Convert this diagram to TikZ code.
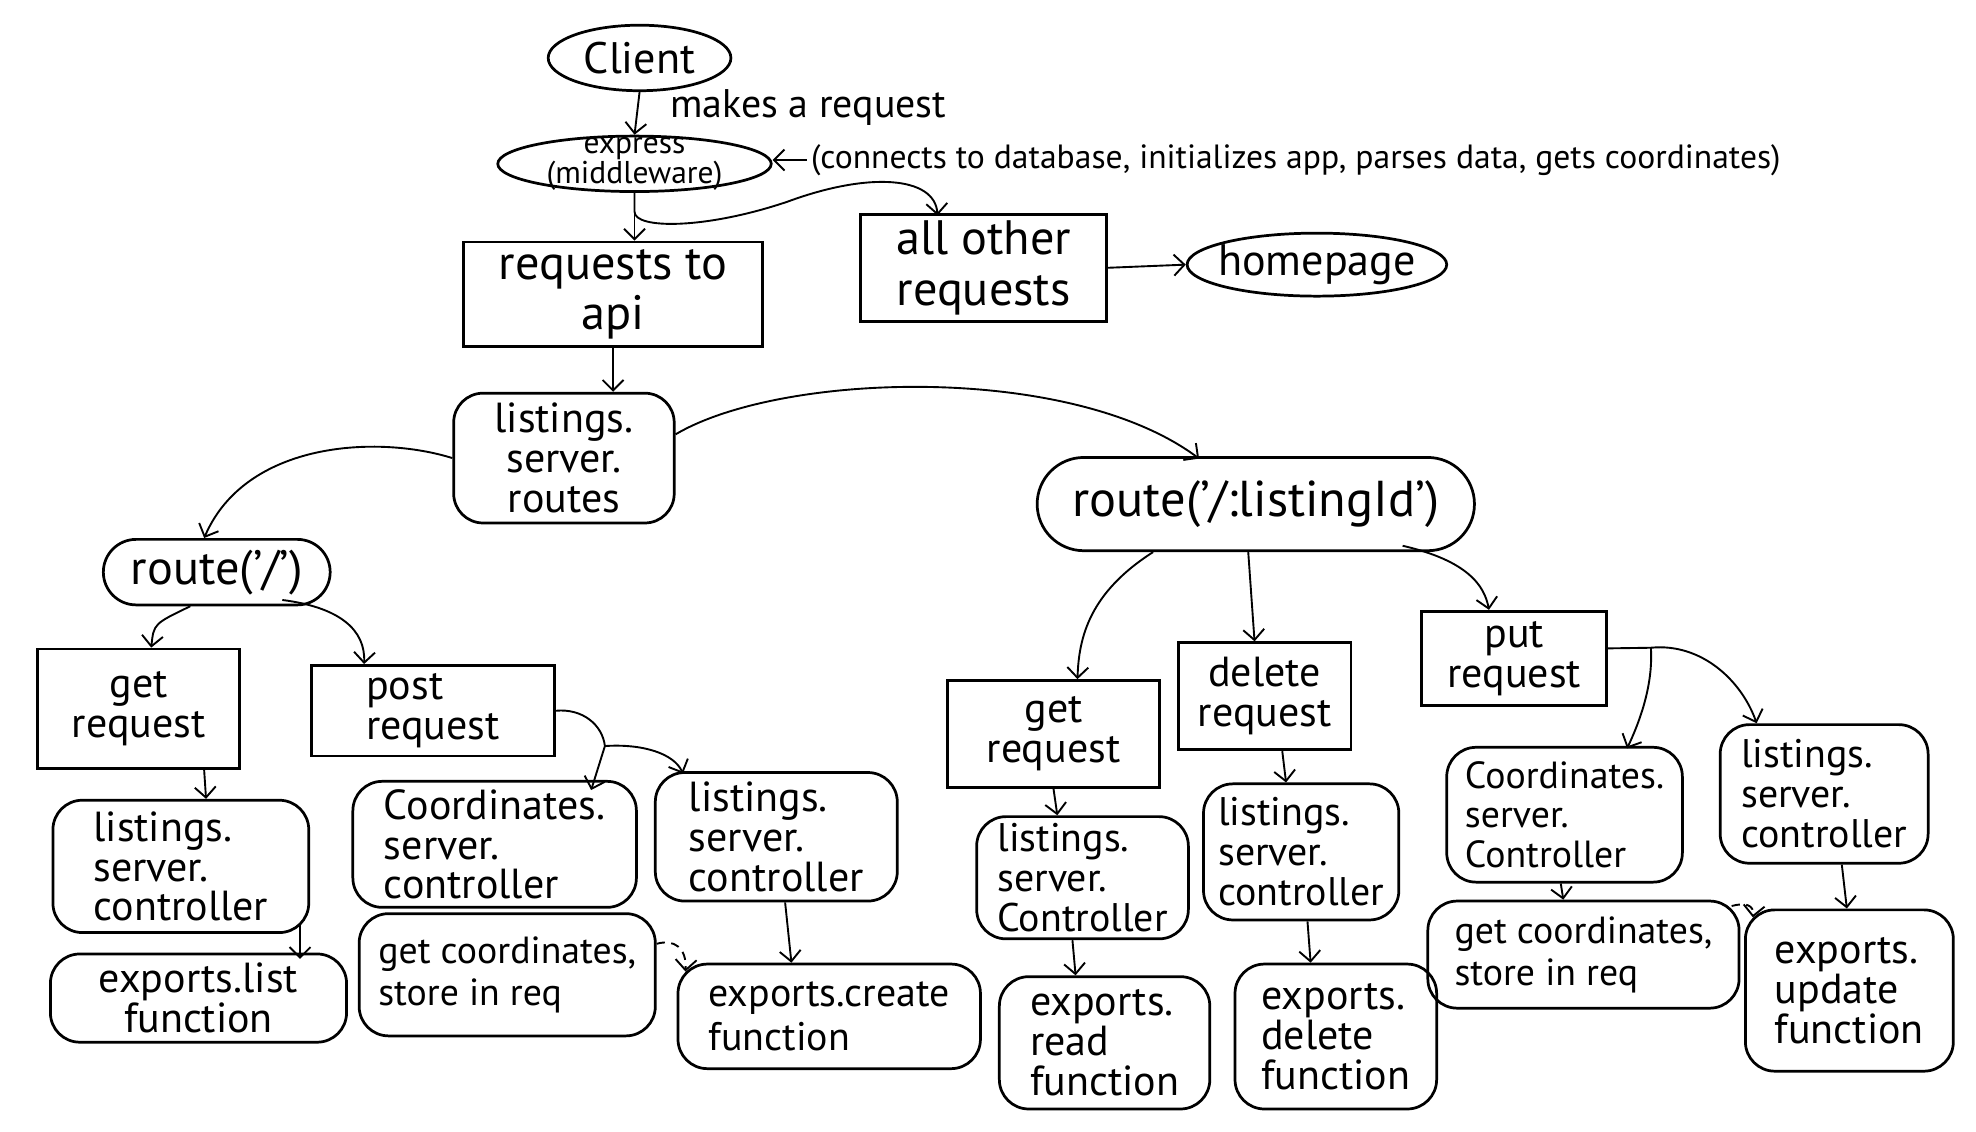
\documentclass[tikz,border=0pt]{standalone}
\usepackage{fontspec}
\setmainfont{PT Sans}
\usetikzlibrary{calc,shapes.geometric,shapes.misc,arrows.meta}
\newcommand\myfs[2]{\fontsize{#1}{#2}\selectfont}
\tikzset{
  shp/.style={draw, line width=1.3pt, inner sep=0pt, align=center},
  wh/.style 2 args={minimum width=#1*0.6pt, minimum height=#2*0.6pt},
  blob/.style={shp, rectangle, rounded corners=14pt},
  rbox/.style={shp, rectangle},
  oval/.style={shp, ellipse},
  pill/.style={shp, rounded rectangle},
  arr/.style={line width=0.9pt, -{Straight Barb[length=5pt,width=10pt]}},
  darr/.style={arr, dash pattern=on 4pt off 3pt},
}
\begin{document}
\begin{tikzpicture}[x=0.6pt,y=-0.6pt, font=\myfs{20}{19}]
\useasboundingbox (0,0) rectangle (1568,898);

% top
\node[oval, wh={145}{52}, label={[font=\myfs{21}{21}]center:Client}] (client) at (507.5,46) {};
\node[oval, wh={217}{44}, label={[font=\myfs{15}{13}, align=center]center:express\\(middleware)}] (express) at (503.5,130) {};
\node[anchor=west, inner sep=2pt, font=\myfs{16}{16}] (note) at (640,127) {(connects to database, initializes app, parses data, gets coordinates)};
\node[rbox, wh={237}{83}, font=\myfs{23}{24}] (reqapi) at (486.5,233.5) {requests to\\api};
\node[rbox, wh={195}{85}, font=\myfs{23}{24}] (allother) at (780.5,212.5) {all other\\requests};
\node[oval, wh={206}{50}, label={[font=\myfs{21}{21}]center:homepage}] (homepage) at (1045,210) {};
\node[blob, wh={175}{103}] (lsr) at (447.5,363.5) {listings.\\server.\\routes};
\node[pill, wh={180}{52}, font=\myfs{23}{23}] (route1) at (172,454) {route('/')};
\node[pill, wh={347}{74}, font=\myfs{24}{24}] (route2) at (996.5,400) {route('/:listingId')};

% left subtree
\node[rbox, wh={160}{95}] (get1) at (110,562.5) {get\\request};
\node[rbox, wh={193}{72}, align=left] (post) at (343.5,564) {post\\request};
\node[blob, wh={203}{105}, align=left] (lsc1) at (143.5,687.5) {listings.\\server.\\controller};
\node[blob, wh={235}{70}] (exportslist) at (157.5,792) {exports.list\\function};
\node[blob, wh={225}{100}, align=left] (coords1) at (392.5,670) {Coordinates.\\server.\\controller};
\node[blob, wh={192}{102}, align=left] (lsc2) at (616,664) {listings.\\server.\\controller};
\node[blob, wh={235}{97}, font=\myfs{18}{20}, align=left] (getcoord1) at (402.5,773.5) {get coordinates,\\store in req};
\node[blob, wh={240}{83}, font=\myfs{19}{21}, align=left] (exportscreate) at (658,806.5) {exports.create\\function};

% right subtree
\node[rbox, wh={168}{85}] (get2) at (836,582.5) {get\\request};
\node[rbox, wh={137}{85}] (delete) at (1003.5,552.5) {delete\\request};
\node[rbox, wh={147}{75}] (put) at (1201.5,522.5) {put\\request};
\node[blob, wh={168}{97}, font=\myfs{19}{19}, align=left] (lsc3) at (859,696.5) {listings.\\server.\\Controller};
\node[blob, wh={167}{105}, align=left] (read) at (876.5,827.5) {exports.\\read\\function};
\node[blob, wh={155}{108}, font=\myfs{19}{19}, align=left] (lsc4) at (1032.5,676) {listings.\\server.\\controller};
\node[blob, wh={160}{115}, align=left] (delfn) at (1060,822.5) {exports.\\delete\\function};
\node[blob, wh={187}{107}, font=\myfs{18}{19}, align=left] (coords2) at (1241.5,646.5) {Coordinates.\\server.\\Controller};
\node[blob, wh={165}{110}, font=\myfs{19}{19}, align=left] (lsc5) at (1447.5,630) {listings.\\server.\\controller};
\node[blob, wh={247}{85}, font=\myfs{18}{20}, align=left] (getcoord2) at (1256.5,757.5) {get coordinates,\\store in req};
\node[blob, wh={165}{128}, align=left] (update) at (1467.5,786) {exports.\\update\\function};

% connectors top
\draw[arr] (client.south) -- (express.north)
  node[midway, anchor=west, xshift=12pt, yshift=3pt, font=\myfs{19}{19}] (mar) {makes a request};
\draw[arr] (note.west) -- (note.west -| express.east);
\draw[arr] (express.south) -- (express.south |- reqapi.north);
\draw[arr] (express.south) -- (503.5,168) .. controls (503.5,182) and (560,182) .. (625,160)
  .. controls (690,136) and (742,140) .. ($(allother.north west)+(62,2)$);
\draw[arr] (allother.east) -- (homepage.west);
\draw[arr] (reqapi.south) -- (reqapi.south |- lsr.north);
\draw[arr] (lsr.west) .. controls (300,345) and (195,350) .. ($(route1.north)+(-10,0)$);
\draw[arr] (lsr.12) .. controls (620,295) and (850,288) .. ($(route2.north)+(-45,2)$);

% left connectors
\draw[arr] ($(route1.south west)+(43,0)$) .. controls (122,495) .. ($(get1.north)+(10,0)$);
\draw[arr] ($(route1.south east)+(-12,-5)$) .. controls (270,482) and (290,500) .. ($(post.north west)+(43,0)$);
\draw[arr] ($(get1.south)+(52,0)$) -- ($(lsc1.north)+(20,0)$);
\draw[arr] ($(lsc1.south east)+(-8,-8)$) -- ($(exportslist.north east)+(-38,5)$);
\coordinate (pbr) at (480,592);
\draw[arr] (post.east) .. controls (462,562) and (478,575) .. (pbr) -- ($(coords1.north east)+(-37,8)$);
\draw[arr] (pbr) .. controls (510,590) and (535,598) .. ($(lsc2.north west)+(23,2)$);
\draw[arr] ($(lsc2.south)+(7,0)$) -- ($(exportscreate.north)+(-30,0)$);
\draw[darr] ($(getcoord1.north east)+(0,25)$) .. controls (535,745) and (545,752) .. ($(exportscreate.north west)+(7,7)$);

% right connectors
\draw[arr] ($(route2.south west)+(55,0)$) .. controls (865,470) and (856,505) .. ($(get2.north)+(19,0)$);
\draw[arr] ($(route2.south)+(-6,0)$) -- ($(delete.north)+(-8,0)$);
\draw[arr] ($(route2.south east)+(-20,-5)$) .. controls (1165,445) and (1178,465) .. ($(put.north)+(-20,0)$);
\draw[arr] (get2.south) -- ($(lsc3.north)+(-20,0)$);
\draw[arr] ($(lsc3.south)+(-8,0)$) -- ($(read.north)+(-23,0)$);
\draw[arr] ($(delete.south)+(14,0)$) -- ($(lsc4.north)+(-12,0)$);
\draw[arr] ($(lsc4.south)+(5,0)$) -- ($(delfn.north)+(-20,0)$);
\coordinate (qbr) at (1310,514);
\draw[arr] ($(put.east)+(0,-8)$) -- (qbr) .. controls (1312,545) and (1300,575) .. ($(coords2.north east)+(-45,2)$);
\draw[arr] (qbr) .. controls (1350,510) and (1382,540) .. ($(lsc5.north west)+(30,0)$);
\draw[arr] ($(coords2.south)+(-3,0)$) -- ($(getcoord2.north)+(-16,0)$);
\draw[arr] ($(lsc5.south)+(14,0)$) -- ($(update.north)+(-2,0)$);
\draw[darr] ($(getcoord2.north east)+(-7,5)$) .. controls (1385,716) and (1392,718) .. ($(update.north west)+(7,7)$);
\end{tikzpicture}
\end{document}
